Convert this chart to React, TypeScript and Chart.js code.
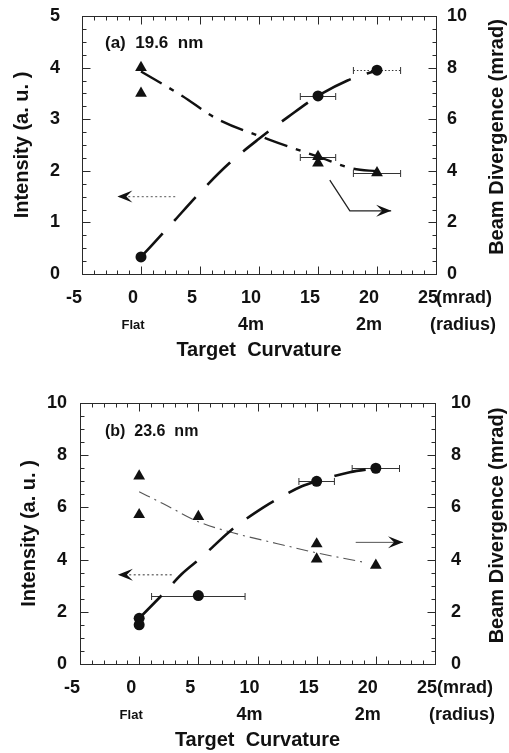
import React, { useEffect, useRef } from 'react';
import { Chart, registerables } from 'chart.js';

Chart.register(...registerables);

const FONT = "'Liberation Sans', Arial, Helvetica, sans-serif";
const INK = '#111111';

// ---------- shared x axis (target curvature) ----------
const xMin = -5;
const xMax = 25;
const xStep = 5;
const radiusTickValues = [0, 10, 20];
const radiusTickLabels = ['Flat', '4m', '2m'];

// ---------- panel (a) 19.6 nm ----------
const aLabel = '(a)  19.6  nm';
const aIntX = [0, 15, 20];
const aIntY = [0.33, 3.45, 3.95];
const aIntErr = [0, 1.5, 2];
const aDivX = [0, 0, 15, 15, 20];
const aDivY = [8.0, 7.0, 4.55, 4.3, 3.92];
const aDivErr = [0, 0, 1.5, 0, 2];
const aIntFitX = [0, 2.5, 5, 7.5, 10, 12.5, 15, 17.5, 20];
const aIntFitY = [0.33, 0.95, 1.58, 2.15, 2.62, 3.05, 3.45, 3.75, 3.95];
const aDivFitX = [0, 3.5, 6.3, 10.8, 15, 18, 20];
const aDivFitY = [7.85, 6.9, 6.05, 5.22, 4.55, 4.08, 3.98];
const aLeftArrowX = [2.9, -2.0];
const aLeftArrowY = [1.5, 1.5];
const aRightArrowX = [16.0, 17.7, 21.2];
const aRightArrowY = [3.64, 2.45, 2.45];

// ---------- panel (b) 23.6 nm ----------
const bLabel = '(b)  23.6  nm';
const bIntX = [0, 0, 5, 15, 20];
const bIntY = [1.75, 1.5, 2.62, 7.0, 7.5];
const bIntErr = [0, 0, 3.95, 1.5, 2];
const bDivX = [0, 0, 5, 15, 15, 20];
const bDivY = [7.2, 5.72, 5.65, 4.6, 4.02, 3.78];
const bDivErr = [0, 0, 0, 0, 0, 0];
const bIntFitX = [0, 2.2, 3.6, 5.3, 7.7, 10.5, 12.0, 13.7, 15, 17.8, 20];
const bIntFitY = [1.75, 2.77, 3.45, 4.1, 5.1, 6.0, 6.4, 6.8, 7.0, 7.35, 7.5];
const bDivFitX = [0, 2, 5, 8, 11.6, 15, 19.2];
const bDivFitY = [6.6, 6.15, 5.45, 5.02, 4.62, 4.26, 3.88];
const bLeftArrowX = [2.75, -1.8];
const bLeftArrowY = [3.42, 3.42];
const bRightArrowX = [18.3, 22.3];
const bRightArrowY = [4.66, 4.66];

const pts = (xs: number[], ys: number[]) => xs.map((x, i) => ({ x, y: ys[i] }));

// frame + inward tick marks, drawn through the chart's scales
const framePlugin = {
  id: 'frameTicks',
  beforeDatasetsDraw(chart: any, _args: any, o: any) {
    const { ctx, chartArea: a, scales } = chart;
    ctx.save();
    ctx.strokeStyle = '#2a2a2a';
    ctx.lineWidth = 1;
    const L = Math.round(a.left) + 0.5, R = Math.round(a.right) + 0.5;
    const T = Math.round(a.top) + 0.5, B = Math.round(a.bottom) + 0.5;
    ctx.strokeRect(L, T, R - L, B - T);
    const marks = (scale: any, minor: number, major: number, cb: (p: number, len: number) => void) => {
      const n = Math.round((scale.max - scale.min) / minor);
      for (let i = 0; i <= n; i++) {
        const v = scale.min + i * minor;
        const isMaj = Math.abs(v / major - Math.round(v / major)) < 1e-6;
        cb(Math.round(scale.getPixelForValue(v)) + 0.5, isMaj ? 8 : 4);
      }
    };
    ctx.beginPath();
    marks(scales.x, o.xMinor, o.xMajor, (p, len) => {
      ctx.moveTo(p, B); ctx.lineTo(p, B - len);
      ctx.moveTo(p, T); ctx.lineTo(p, T + len);
    });
    marks(scales.y, o.yMinor, o.yMajor, (p, len) => {
      ctx.moveTo(L, p); ctx.lineTo(L + len, p);
    });
    marks(scales.y2, o.y2Minor, o.y2Major, (p, len) => {
      ctx.moveTo(R, p); ctx.lineTo(R - len, p);
    });
    ctx.stroke();
    ctx.restore();
  },
};

const errorBarPlugin = {
  id: 'xErrorBars',
  beforeDatasetsDraw(chart: any) {
    const { ctx } = chart;
    const xs = chart.scales.x;
    chart.data.datasets.forEach((ds: any, di: number) => {
      if (!ds.xErr) return;
      const meta = chart.getDatasetMeta(di);
      meta.data.forEach((el: any, i: number) => {
        const e = ds.xErr[i];
        if (!e) return;
        const raw = ds.data[i];
        const x1 = xs.getPixelForValue(raw.x - e);
        const x2 = xs.getPixelForValue(raw.x + e);
        const y = Math.round(el.y) + 0.5;
        ctx.save();
        ctx.strokeStyle = '#333';
        ctx.lineWidth = 1;
        ctx.setLineDash(ds.errDotted && ds.errDotted[i] ? [1.5, 2] : []);
        ctx.beginPath();
        ctx.moveTo(x1, y); ctx.lineTo(x2, y);
        ctx.stroke();
        ctx.setLineDash([]);
        ctx.beginPath();
        ctx.moveTo(x1, y - 3.5); ctx.lineTo(x1, y + 3.5);
        ctx.moveTo(x2, y - 3.5); ctx.lineTo(x2, y + 3.5);
        ctx.stroke();
        ctx.restore();
      });
    });
  },
};

const arrowPlugin = {
  id: 'arrowHeads',
  afterDatasetsDraw(chart: any) {
    const { ctx } = chart;
    chart.data.datasets.forEach((ds: any, di: number) => {
      if (!ds.arrowHead) return;
      const meta = chart.getDatasetMeta(di);
      const n = meta.data.length;
      const p1 = meta.data[n - 2], p2 = meta.data[n - 1];
      const ang = Math.atan2(p2.y - p1.y, p2.x - p1.x);
      ctx.save();
      ctx.translate(p2.x, p2.y);
      ctx.rotate(ang);
      ctx.fillStyle = INK;
      ctx.beginPath();
      ctx.moveTo(0, 0);
      ctx.lineTo(-15, -6);
      ctx.lineTo(-9, 0);
      ctx.lineTo(-15, 6);
      ctx.closePath();
      ctx.fill();
      ctx.restore();
    });
  },
};

const textPlugin = {
  id: 'panelText',
  afterDraw(chart: any, _args: any, o: any) {
    const { ctx, chartArea: a } = chart;
    const x = chart.scales.x;
    ctx.save();
    ctx.fillStyle = INK;
    ctx.textBaseline = 'middle';
    ctx.textAlign = 'left';
    ctx.font = `bold ${o.labelSize}px ${FONT}`;
    ctx.fillText(o.label, a.left + o.labelDx, a.top + o.labelDy);
    radiusTickValues.forEach((v, i) => {
      ctx.font = `bold ${o.radiusSizes[i]}px ${FONT}`;
      ctx.textAlign = 'center';
      ctx.fillText(radiusTickLabels[i], x.getPixelForValue(v) - 8, a.bottom + 51);
    });
    ctx.font = `bold 18px ${FONT}`;
    ctx.textAlign = 'left';
    ctx.fillText('(mrad)', x.getPixelForValue(x.max) + o.mradDx, a.bottom + 24);
    ctx.fillText('(radius)', x.getPixelForValue(x.max) - 6, a.bottom + 51);
    ctx.translate(497, (a.top + a.bottom) / 2 - 8);
    ctx.rotate(-Math.PI / 2);
    ctx.textAlign = 'center';
    ctx.font = `bold 20px ${FONT}`;
    ctx.fillText('Beam Divergence (mrad)', 0, 0);
    ctx.restore();
  },
};

type PanelSpec = {
  label: string; labelSize: number; labelDx: number; labelDy: number;
  yMax: number; yStep: number; yMinor: number; y2Minor: number;
  intX: number[]; intY: number[]; intErr: number[]; intErrDotted: boolean[];
  divX: number[]; divY: number[]; divErr: number[];
  intFitX: number[]; intFitY: number[]; divFitX: number[]; divFitY: number[];
  lArrowX: number[]; lArrowY: number[]; rArrowX: number[]; rArrowY: number[];
  padTop: number; leftW: number; rightW: number; xH: number;
  yPad: number; y2Pad: number; yTitlePad: number; xTitlePad: number;
  divFitWidth: number; divFitColor: string; divFitDash: number[];
  rArrowWidth: number; rArrowColor: string; mradDx: number;
};

function makeConfig(p: PanelSpec): any {
  const tickFont = { family: FONT, size: 18, weight: 'bold' };
  const titleFont = { family: FONT, size: 20, weight: 'bold' };
  const fixVPad = (s: any) => { s.paddingTop = 11; s.paddingBottom = 11; };
  return {
    type: 'scatter',
    data: {
      datasets: [
        {
          label: 'Intensity', data: pts(p.intX, p.intY), yAxisID: 'y',
          pointStyle: 'circle', pointRadius: 5.5, backgroundColor: INK, borderColor: INK, borderWidth: 0,
          xErr: p.intErr, errDotted: p.intErrDotted,
        },
        {
          label: 'Divergence', data: pts(p.divX, p.divY), yAxisID: 'y2',
          pointStyle: 'triangle', pointRadius: 6.8, backgroundColor: INK, borderColor: INK, borderWidth: 0,
          xErr: p.divErr,
        },
        {
          label: 'Intensity fit', data: pts(p.intFitX, p.intFitY), yAxisID: 'y', showLine: true,
          pointRadius: 0, borderColor: INK, borderWidth: 2.6, borderDash: [32, 17],
          cubicInterpolationMode: 'monotone', fill: false,
        },
        {
          label: 'Divergence fit', data: pts(p.divFitX, p.divFitY), yAxisID: 'y2', showLine: true,
          pointRadius: 0, borderColor: p.divFitColor, borderWidth: p.divFitWidth, borderDash: p.divFitDash,
          cubicInterpolationMode: 'monotone', fill: false,
        },
        {
          label: 'to left axis', data: pts(p.lArrowX, p.lArrowY), yAxisID: 'y', showLine: true,
          pointRadius: 0, borderColor: '#777', borderWidth: 1.3, borderDash: [2, 2.5], arrowHead: true,
        },
        {
          label: 'to right axis', data: pts(p.rArrowX, p.rArrowY), yAxisID: 'y2', showLine: true,
          pointRadius: 0, borderColor: p.rArrowColor, borderWidth: p.rArrowWidth, arrowHead: true,
        },
      ],
    },
    options: {
      responsive: false,
      animation: false,
      events: [],
      layout: { padding: { top: p.padTop, left: 0, right: 0, bottom: 0 } },
      plugins: {
        legend: { display: false },
        tooltip: { enabled: false },
        frameTicks: { xMinor: 1, xMajor: 5, yMinor: p.yMinor, yMajor: p.yStep, y2Minor: p.y2Minor, y2Major: 2 },
        panelText: {
          label: p.label, labelSize: p.labelSize, labelDx: p.labelDx, labelDy: p.labelDy,
          radiusSizes: [13, 18, 18], mradDx: p.mradDx,
        },
      },
      scales: {
        x: {
          type: 'linear', position: 'bottom', min: xMin, max: xMax,
          ticks: { stepSize: xStep, font: tickFont, color: INK, padding: 13, labelOffset: -8, maxRotation: 0 },
          grid: { display: false, drawTicks: false },
          border: { display: false },
          title: { display: true, text: 'Target  Curvature', font: titleFont, color: INK, padding: { top: 0, bottom: p.xTitlePad } },
          afterFit: (s: any) => { s.height = p.xH; },
        },
        y: {
          type: 'linear', position: 'left', min: 0, max: p.yMax,
          ticks: { stepSize: p.yStep, font: tickFont, color: INK, padding: p.yPad },
          grid: { display: false, drawTicks: false },
          border: { display: false },
          title: { display: true, text: 'Intensity (a. u. )', font: titleFont, color: INK, padding: { top: p.yTitlePad, bottom: 0 } },
          afterFit: (s: any) => { s.width = p.leftW; fixVPad(s); },
        },
        y2: {
          type: 'linear', position: 'right', min: 0, max: 10,
          ticks: { stepSize: 2, font: tickFont, color: INK, padding: p.y2Pad },
          grid: { display: false, drawTicks: false },
          border: { display: false },
          afterFit: (s: any) => { s.width = p.rightW; fixVPad(s); },
        },
      },
    },
    plugins: [framePlugin, errorBarPlugin, arrowPlugin, textPlugin],
  };
}

const panelA: PanelSpec = {
  label: aLabel, labelSize: 17, labelDx: 23, labelDy: 27,
  yMax: 5, yStep: 1, yMinor: 0.25, y2Minor: 0.5,
  intX: aIntX, intY: aIntY, intErr: aIntErr, intErrDotted: [false, false, true],
  divX: aDivX, divY: aDivY, divErr: aDivErr,
  intFitX: aIntFitX, intFitY: aIntFitY, divFitX: aDivFitX, divFitY: aDivFitY,
  lArrowX: aLeftArrowX, lArrowY: aLeftArrowY, rArrowX: aRightArrowX, rArrowY: aRightArrowY,
  padTop: 16, leftW: 82, rightW: 73, xH: 96,
  yPad: 22, y2Pad: 11, yTitlePad: 10, xTitlePad: 8,
  divFitWidth: 2.4, divFitColor: INK, divFitDash: [24, 9, 5, 9],
  rArrowWidth: 1.3, rArrowColor: '#222', mradDx: 0,
};

const panelB: PanelSpec = {
  label: bLabel, labelSize: 16, labelDx: 25, labelDy: 29,
  yMax: 10, yStep: 2, yMinor: 0.5, y2Minor: 0.5,
  intX: bIntX, intY: bIntY, intErr: bIntErr, intErrDotted: [false, false, false, false, false],
  divX: bDivX, divY: bDivY, divErr: bDivErr,
  intFitX: bIntFitX, intFitY: bIntFitY, divFitX: bDivFitX, divFitY: bDivFitY,
  lArrowX: bLeftArrowX, lArrowY: bLeftArrowY, rArrowX: bRightArrowX, rArrowY: bRightArrowY,
  padTop: 33, leftW: 80, rightW: 74, xH: 89,
  yPad: 13, y2Pad: 16, yTitlePad: 17, xTitlePad: 1,
  divFitWidth: 1.1, divFitColor: '#555', divFitDash: [12, 5, 2, 5],
  rArrowWidth: 1, rArrowColor: '#555', mradDx: 2,
};

function Panel({ spec, height }: { spec: PanelSpec; height: number }) {
  const ref = useRef<HTMLCanvasElement | null>(null);
  useEffect(() => {
    if (!ref.current) return;
    const chart = new Chart(ref.current, makeConfig(spec));
    return () => chart.destroy();
  }, [spec]);
  return <canvas ref={ref} width={509} height={height} style={{ display: 'block', width: 509, height }} />;
}

export default function App() {
  return (
    <div style={{ position: 'absolute', left: 0, top: 0, width: 509, height: 753, background: '#fff' }}>
      <Panel spec={panelA} height={370} />
      <Panel spec={panelB} height={383} />
    </div>
  );
}
